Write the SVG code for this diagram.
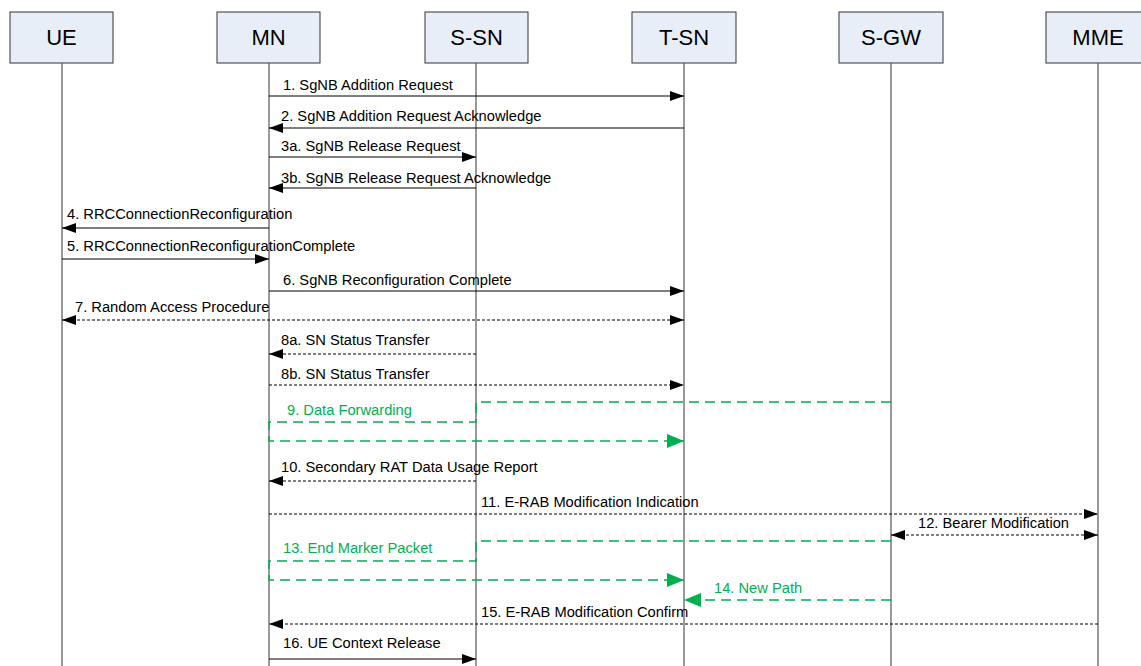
<svg xmlns="http://www.w3.org/2000/svg" width="1141" height="666" viewBox="0 0 1141 666">
<style>
.box{fill:#E8EEF8;stroke:#333;stroke-width:1}
.hdr{font-family:"Liberation Sans",Arial,sans-serif;font-size:22px;fill:#000;text-anchor:middle}
.life{stroke:#555;stroke-width:1.2}
.lbl{font-family:"Liberation Sans",Arial,sans-serif;font-size:14.7px;fill:#000}
.glbl{font-family:"Liberation Sans",Arial,sans-serif;font-size:14.7px;fill:#00B050}
.sol{stroke:#000;stroke-width:1;fill:none}
.dsh{stroke:#000;stroke-width:1;stroke-dasharray:3,2;fill:none}
.grn{stroke:#00B050;stroke-width:1.5;stroke-dasharray:10,6;fill:none}
</style>
<defs>
<marker id="ah" markerUnits="userSpaceOnUse" markerWidth="14" markerHeight="12" refX="14" refY="6" orient="auto">
<path d="M0,1 L14,6 L0,11 z" fill="#000"/>
</marker>
<marker id="ahs" markerUnits="userSpaceOnUse" markerWidth="14" markerHeight="12" refX="14" refY="6" orient="auto-start-reverse">
<path d="M0,1 L14,6 L0,11 z" fill="#000"/>
</marker>
<marker id="gh" markerUnits="userSpaceOnUse" markerWidth="17" markerHeight="14" refX="17" refY="7" orient="auto">
<path d="M0,0 L17,7 L0,14 z" fill="#00B050"/>
</marker>
</defs>
<rect width="1141" height="666" fill="#fff"/>
<g id="UE"><rect class="box" x="10" y="12" width="103" height="51"/><text class="hdr" x="61.5" y="45">UE</text><line class="life" x1="62" y1="63" x2="62" y2="666"/></g>
<g id="MN"><rect class="box" x="217" y="12" width="103" height="51"/><text class="hdr" x="268.5" y="45">MN</text><line class="life" x1="269" y1="63" x2="269" y2="666"/></g>
<g id="S-SN"><rect class="box" x="425" y="12" width="103" height="51"/><text class="hdr" x="476.5" y="45">S-SN</text><line class="life" x1="476" y1="63" x2="476" y2="666"/></g>
<g id="T-SN"><rect class="box" x="632" y="12" width="104" height="51"/><text class="hdr" x="684" y="45">T-SN</text><line class="life" x1="684" y1="63" x2="684" y2="666"/></g>
<g id="S-GW"><rect class="box" x="839" y="12" width="104" height="51"/><text class="hdr" x="891" y="45">S-GW</text><line class="life" x1="891" y1="63" x2="891" y2="666"/></g>
<g id="MME"><rect class="box" x="1046" y="12" width="104" height="51"/><text class="hdr" x="1098" y="45">MME</text><line class="life" x1="1098" y1="63" x2="1098" y2="666"/></g>
<g id="connectors">
<line class="sol" x1="269" y1="96" x2="684" y2="96" marker-end="url(#ah)"/>
<text class="lbl" x="283" y="90">1. SgNB Addition Request</text>
<line class="sol" x1="684" y1="128" x2="269" y2="128" marker-end="url(#ah)"/>
<text class="lbl" x="281" y="121">2. SgNB Addition Request Acknowledge</text>
<line class="sol" x1="269" y1="157" x2="476" y2="157" marker-end="url(#ah)"/>
<text class="lbl" x="281" y="151">3a. SgNB Release Request</text>
<line class="sol" x1="476" y1="188" x2="269" y2="188" marker-end="url(#ah)"/>
<text class="lbl" x="281" y="183">3b. SgNB Release Request Acknowledge</text>
<line class="sol" x1="269" y1="228" x2="62" y2="228" marker-end="url(#ah)"/>
<text class="lbl" x="67" y="219">4. RRCConnectionReconfiguration</text>
<line class="sol" x1="62" y1="259" x2="269" y2="259" marker-end="url(#ah)"/>
<text class="lbl" x="67" y="251">5. RRCConnectionReconfigurationComplete</text>
<line class="sol" x1="269" y1="291" x2="684" y2="291" marker-end="url(#ah)"/>
<text class="lbl" x="283" y="285">6. SgNB Reconfiguration Complete</text>
<line class="dsh" x1="62" y1="320" x2="684" y2="320" marker-start="url(#ahs)" marker-end="url(#ahs)"/>
<text class="lbl" x="75" y="312">7. Random Access Procedure</text>
<line class="dsh" x1="476" y1="354" x2="269" y2="354" marker-end="url(#ah)"/>
<text class="lbl" x="281" y="345">8a. SN Status Transfer</text>
<line class="dsh" x1="269" y1="385" x2="684" y2="385" marker-end="url(#ah)"/>
<text class="lbl" x="281" y="379">8b. SN Status Transfer</text>
<polyline class="grn" points="891,402 476,402 476,422 269,422 269,441 684,441" marker-end="url(#gh)"/>
<text class="glbl" x="287" y="415">9. Data Forwarding</text>
<line class="dsh" x1="476" y1="481" x2="269" y2="481" marker-end="url(#ah)"/>
<text class="lbl" x="281" y="472">10. Secondary RAT Data Usage Report</text>
<line class="dsh" x1="269" y1="514" x2="1098" y2="514" marker-end="url(#ah)"/>
<text class="lbl" x="481" y="507">11. E-RAB Modification Indication</text>
<line class="dsh" x1="891" y1="535" x2="1098" y2="535" marker-start="url(#ahs)" marker-end="url(#ahs)"/>
<text class="lbl" x="918" y="528">12. Bearer Modification</text>
<polyline class="grn" points="891,541 476,541 476,561 269,561 269,580 684,580" marker-end="url(#gh)"/>
<text class="glbl" x="283" y="553">13. End Marker Packet</text>
<line class="grn" x1="891" y1="600" x2="684" y2="600" marker-end="url(#gh)"/>
<text class="glbl" x="714" y="593">14. New Path</text>
<line class="dsh" x1="1098" y1="624" x2="269" y2="624" marker-end="url(#ah)"/>
<text class="lbl" x="481" y="617">15. E-RAB Modification Confirm</text>
<line class="sol" x1="269" y1="659" x2="476" y2="659" marker-end="url(#ah)"/>
<text class="lbl" x="283" y="648">16. UE Context Release</text>
</g>
</svg>
